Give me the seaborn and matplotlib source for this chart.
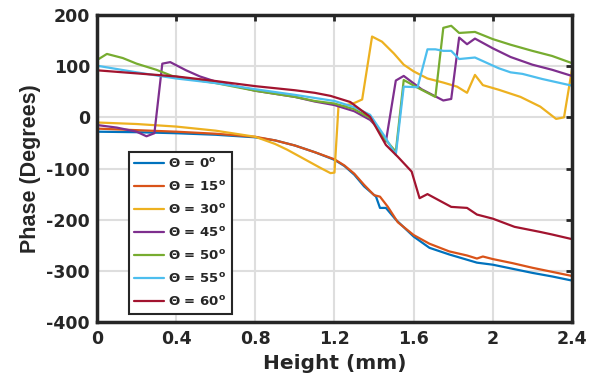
import numpy as np
import pandas as pd
import matplotlib
matplotlib.use("Agg")
import matplotlib.pyplot as plt
import seaborn as sns

# angles and MATLAB default line colours
angles = [0, 15, 30, 45, 50, 55, 60]
colors = ['#0072BD', '#D95319', '#EDB120', '#7E2F8E', '#77AC30', '#4DBEEE', '#A2142F']

# phase vs height
x0 = [0, 0.2, 0.4, 0.6, 0.8, 0.9, 1.0, 1.1, 1.2, 1.25, 1.3, 1.35, 1.41, 1.43, 1.46, 1.51, 1.6, 1.68, 1.78, 1.92, 2.0, 2.1, 2.2, 2.3, 2.4]
y0 = [-28, -29, -31, -34, -39, -45, -55, -68, -83, -95, -112, -135, -155, -177, -177, -200, -233, -255, -268, -284, -288, -296, -304, -311, -319]

x15 = [0, 0.2, 0.4, 0.6, 0.8, 0.9, 1.0, 1.1, 1.2, 1.25, 1.3, 1.35, 1.4, 1.43, 1.47, 1.52, 1.6, 1.68, 1.78, 1.87, 1.92, 1.95, 2.0, 2.1, 2.2, 2.3, 2.4]
y15 = [-22, -25, -28, -32, -38, -45, -55, -68, -82, -94, -110, -132, -152, -155, -175, -205, -230, -247, -262, -270, -276, -272, -277, -285, -294, -302, -310]

x30 = [0, 0.2, 0.4, 0.6, 0.8, 0.9, 0.96, 1.05, 1.13, 1.18, 1.2, 1.22, 1.3, 1.34, 1.39, 1.44, 1.5, 1.55, 1.6, 1.67, 1.75, 1.82, 1.87, 1.91, 1.95, 2.03, 2.14, 2.24, 2.32, 2.36, 2.4]
y30 = [-10, -13, -18, -26, -38, -52, -63, -82, -99, -109, -108, 20, 28, 35, 158, 148, 125, 103, 90, 76, 68, 60, 48, 83, 63, 54, 40, 21, -3, 0, 93]

x45 = [0, 0.1, 0.2, 0.25, 0.29, 0.33, 0.37, 0.45, 0.52, 0.6, 0.8, 1.0, 1.1, 1.2, 1.3, 1.38, 1.42, 1.46, 1.51, 1.55, 1.64, 1.75, 1.79, 1.83, 1.87, 1.91, 2.0, 2.09, 2.2, 2.3, 2.4]
y45 = [-15, -20, -28, -37, -31, 105, 108, 92, 80, 70, 52, 40, 31, 24, 12, -5, -21, -47, 72, 81, 55, 33, 36, 156, 143, 154, 135, 118, 103, 93, 81]

x50 = [0, 0.05, 0.13, 0.2, 0.3, 0.38, 0.5, 0.6, 0.8, 1.0, 1.1, 1.2, 1.3, 1.38, 1.45, 1.51, 1.55, 1.63, 1.71, 1.75, 1.79, 1.83, 1.91, 2.0, 2.09, 2.2, 2.3, 2.4]
y50 = [112, 124, 116, 105, 93, 81, 73, 67, 52, 40, 32, 27, 16, -1, -40, -67, 73, 56, 40, 175, 179, 165, 167, 153, 142, 130, 120, 106]

x55 = [0, 0.2, 0.4, 0.6, 0.8, 1.0, 1.1, 1.2, 1.3, 1.38, 1.45, 1.51, 1.55, 1.62, 1.67, 1.71, 1.75, 1.79, 1.83, 1.91, 2.03, 2.09, 2.15, 2.25, 2.4]
y55 = [101, 88, 76, 67, 55, 44, 38, 32, 20, 5, -35, -73, 60, 59, 133, 133, 130, 130, 114, 117, 96, 88, 85, 75, 62]

x60 = [0, 0.2, 0.4, 0.6, 0.8, 1.0, 1.1, 1.18, 1.28, 1.38, 1.46, 1.52, 1.59, 1.63, 1.67, 1.79, 1.87, 1.92, 2.0, 2.11, 2.24, 2.3, 2.4]
y60 = [92, 86, 80, 71, 61, 53, 48, 42, 30, 1, -54, -77, -106, -158, -150, -175, -177, -190, -198, -214, -224, -229, -238]

xs = [x0, x15, x30, x45, x50, x55, x60]
ys = [y0, y15, y30, y45, y50, y55, y60]

sns.set_theme(style="whitegrid")
plt.rcParams['font.family'] = ['DejaVu Sans']
plt.rcParams['font.weight'] = 'bold'
plt.rcParams['axes.unicode_minus'] = False
plt.rcParams['mathtext.fontset'] = 'custom'
plt.rcParams['mathtext.rm'] = 'DejaVu Sans:bold'
plt.rcParams['mathtext.it'] = 'DejaVu Sans:bold'
plt.rcParams['mathtext.bf'] = 'DejaVu Sans:bold'

labels = [f'Θ = {a}$^{{o}}$' for a in angles]
frames = []
for lab, x, y in zip(labels, xs, ys):
    frames.append(pd.DataFrame({'Height': x, 'Phase': y, 'Angle': lab}))
df = pd.concat(frames, ignore_index=True)

fig = plt.figure(figsize=(5.97, 3.91), dpi=100)
ax = fig.add_axes([0.1625, 0.1765, 0.7955, 0.785])

sns.lineplot(data=df, x='Height', y='Phase', hue='Angle', palette=colors,
             estimator=None, sort=False, units='Angle', linewidth=1.6, ax=ax)

ax.set_xlim(0, 2.4)
ax.set_ylim(-400, 200)
ax.set_xticks([0, 0.4, 0.8, 1.2, 1.6, 2.0, 2.4])
ax.set_xticklabels(['0', '0.4', '0.8', '1.2', '1.6', '2', '2.4'])
ax.set_yticks(np.arange(-400, 201, 100))
ax.set_xlabel('Height (mm)', fontsize=14.5, fontweight='bold', color='#262626', labelpad=4)
ax.set_ylabel('Phase (Degrees)', fontsize=15.5, fontweight='bold', color='#262626', labelpad=4,
              family='Liberation Sans')
ax.tick_params(axis='both', labelsize=12.5, colors='#262626', direction='in', length=4, width=2,
               top=True, right=True)
ax.tick_params(axis='x', pad=6)
ax.tick_params(axis='y', pad=5)
for lab in ax.get_xticklabels() + ax.get_yticklabels():
    lab.set_fontweight('bold')

ax.grid(True, color='#dedede', linewidth=1.5)
ax.set_facecolor('white')
for sp in ax.spines.values():
    sp.set_visible(True)
    sp.set_color('#262626')
    sp.set_linewidth(2.5)

leg = ax.legend(loc='lower left', bbox_to_anchor=(0.067, 0.026), borderaxespad=0,
                fontsize=9.5, frameon=True, fancybox=False, handlelength=2.3,
                labelspacing=0.68, handletextpad=0.3, borderpad=0.4, title=None)
leg.get_frame().set_edgecolor('#262626')
leg.get_frame().set_linewidth(1.5)
leg.get_frame().set_alpha(1)
for t in leg.get_texts():
    t.set_fontweight('bold')

fig.savefig('out.png', dpi=100)
